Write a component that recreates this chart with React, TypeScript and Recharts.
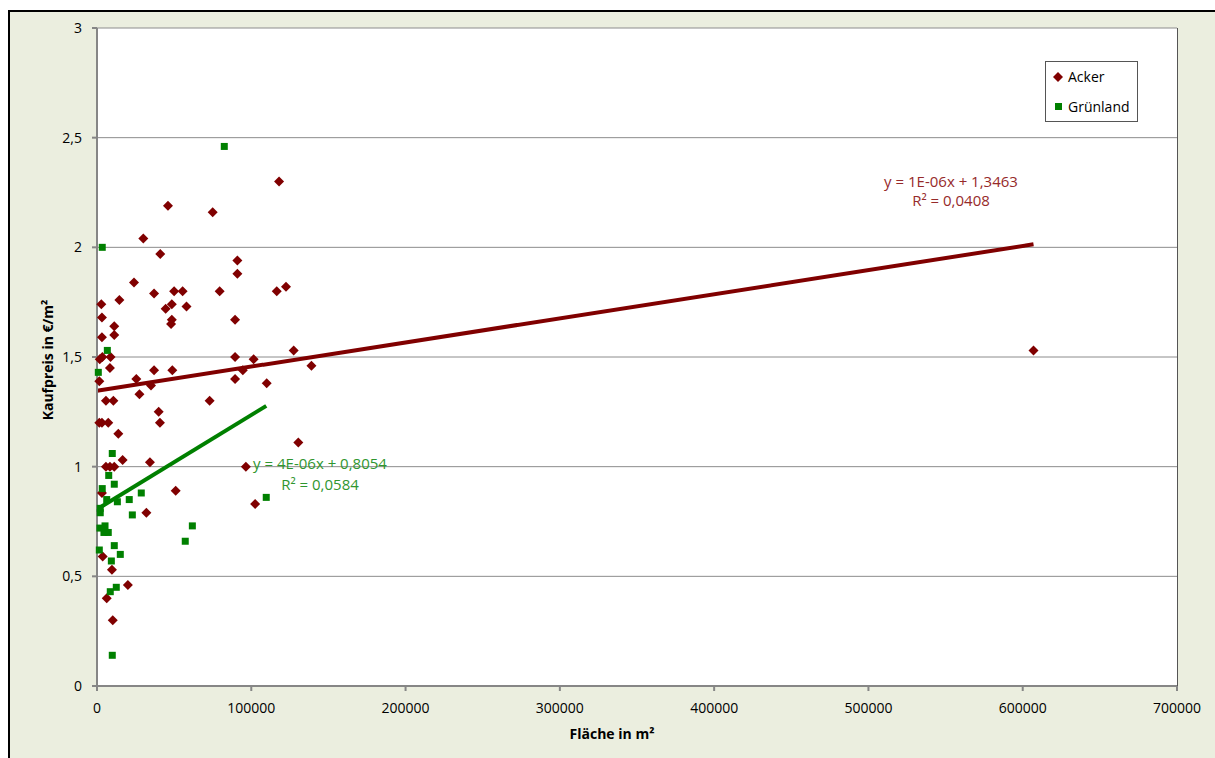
import React from 'react';
import {
  ScatterChart,
  Scatter,
  XAxis,
  YAxis,
  CartesianGrid,
  ReferenceLine,
} from 'recharts';

// Ackerland: Fläche (m²) / Kaufpreis (€/m²)
const ackerFlaeche = [
  607000, 118000, 46000, 75000, 30000, 41000, 91000, 91000, 24000, 122500,
  37000, 50000, 55500, 79500, 116500, 14500, 2800, 48500, 58000, 44500,
  3200, 89500, 48500, 48000, 11200, 11200, 3200, 127500, 89500, 101500,
  1800, 3500, 8800, 139000, 8400, 37000, 48800, 94500, 1500, 25500,
  89500, 35000, 110000, 27500, 73000, 5800, 10600, 40000, 40800, 1500,
  3200, 7300, 13800, 130500, 16600, 34300, 5800, 8400, 11200, 96500,
  3200, 51000, 102500, 32000, 3700, 9700, 20000, 6300, 10200,
];
const ackerPreis = [
  1.53, 2.3, 2.19, 2.16, 2.04, 1.97, 1.94, 1.88, 1.84, 1.82,
  1.79, 1.8, 1.8, 1.8, 1.8, 1.76, 1.74, 1.74, 1.73, 1.72,
  1.68, 1.67, 1.67, 1.65, 1.64, 1.6, 1.59, 1.53, 1.5, 1.49,
  1.49, 1.5, 1.5, 1.46, 1.45, 1.44, 1.44, 1.44, 1.39, 1.4,
  1.4, 1.37, 1.38, 1.33, 1.3, 1.3, 1.3, 1.25, 1.2, 1.2,
  1.2, 1.2, 1.15, 1.11, 1.03, 1.02, 1.0, 1.0, 1.0, 1.0,
  0.88, 0.89, 0.83, 0.79, 0.59, 0.53, 0.46, 0.4, 0.3,
];

// Grünland
const gruenFlaeche = [
  82500, 3400, 6700, 850, 9900, 7600, 11200, 3400, 6300, 13200,
  20900, 28700, 2100, 2100, 22900, 5200, 1900, 7300, 4500, 61800,
  57200, 11200, 1500, 15100, 9300, 12500, 8600, 9900, 109700,
];
const gruenPreis = [
  2.46, 2.0, 1.53, 1.43, 1.06, 0.96, 0.92, 0.9, 0.85, 0.84,
  0.85, 0.88, 0.81, 0.79, 0.78, 0.73, 0.72, 0.7, 0.7, 0.73,
  0.66, 0.64, 0.62, 0.6, 0.57, 0.45, 0.43, 0.14, 0.86,
];

// lineare Trends (Steigung, Achsenabschnitt, Bereich)
const ackerTrend = { m: 1.1e-6, b: 1.3463, from: 0, to: 607000 };
const gruenTrend = { m: 4.3e-6, b: 0.8054, from: 850, to: 109700 };

const xTicks = [0, 100000, 200000, 300000, 400000, 500000, 600000, 700000];
const yTicks = [0, 0.5, 1, 1.5, 2, 2.5, 3];

const ACKER = '#800000';
const GRUEN = '#008000';
const FONT = '"Open Sans", sans-serif';

const ackerData = ackerFlaeche.map((x, i) => ({ x, y: ackerPreis[i] }));
const gruenData = gruenFlaeche.map((x, i) => ({ x, y: gruenPreis[i] }));

const segment = (t: { m: number; b: number; from: number; to: number }) => [
  { x: t.from, y: t.m * t.from + t.b },
  { x: t.to, y: t.m * t.to + t.b },
];

const Diamond = (props: any) => {
  const { cx, cy } = props;
  const r = 5;
  return (
    <polygon
      points={`${cx},${cy - r} ${cx + r},${cy} ${cx},${cy + r} ${cx - r},${cy}`}
      fill={ACKER}
    />
  );
};

const Square = (props: any) => {
  const { cx, cy } = props;
  return <rect x={cx - 3.5} y={cy - 3.5} width={7} height={7} fill={GRUEN} />;
};

const tickStyle = { fontSize: 14, fill: '#000', fontFamily: FONT };

export default function App() {
  return (
    <div
      style={{
        position: 'fixed',
        left: 8,
        top: 10,
        width: 1207,
        height: 748,
        boxSizing: 'border-box',
        borderLeft: '2px solid #000',
        borderTop: '2px solid #000',
        background: '#ebeedf',
        fontFamily: FONT,
        overflow: 'hidden',
      }}
    >
      {/* Zeichenfläche */}
      <div style={{ position: 'absolute', left: 87, top: 16, width: 1080, height: 658, background: '#fff' }} />
      <div style={{ position: 'absolute', left: 0, top: 0 }}>
        <ScatterChart
          width={1205}
          height={746}
          margin={{ top: 16, right: 38, bottom: 32, left: 27 }}
        >
          <CartesianGrid vertical={false} stroke="#8c8c8c" strokeWidth={1} />
          <XAxis
            type="number"
            dataKey="x"
            domain={[0, 700000]}
            ticks={xTicks}
            interval={0}
            height={40}
            tick={tickStyle}
            tickSize={5}
            tickMargin={12}
            stroke="#868686"
            strokeWidth={2}
          />
          <YAxis
            type="number"
            dataKey="y"
            domain={[0, 3]}
            ticks={yTicks}
            interval={0}
            width={60}
            tick={tickStyle}
            tickSize={5}
            tickMargin={10}
            tickFormatter={(v: number) => String(v).replace('.', ',')}
            stroke="#868686"
            strokeWidth={2}
          />
          <Scatter name="Acker" data={ackerData} shape={Diamond} isAnimationActive={false} />
          <Scatter name="Grünland" data={gruenData} shape={Square} isAnimationActive={false} />
          <ReferenceLine segment={segment(ackerTrend)} stroke={ACKER} strokeWidth={4} />
          <ReferenceLine segment={segment(gruenTrend)} stroke={GRUEN} strokeWidth={4} />
        </ScatterChart>
      </div>

      {/* rechter Rand der Zeichenfläche */}
      <div style={{ position: 'absolute', left: 1167, top: 16, width: 1, height: 658, background: '#555' }} />

      {/* Achsentitel */}
      <div
        style={{
          position: 'absolute',
          left: 36.5,
          top: 348,
          transform: 'translate(-50%, -50%) rotate(-90deg)',
          whiteSpace: 'nowrap',
          fontSize: 14,
          fontWeight: 700,
        }}
      >
        Kaufpreis in €/m²
      </div>
      <div
        style={{
          position: 'absolute',
          left: 602,
          top: 721,
          transform: 'translate(-50%, -50%)',
          whiteSpace: 'nowrap',
          fontSize: 14,
          fontWeight: 700,
        }}
      >
        Fläche in m²
      </div>

      {/* Trendgleichungen */}
      <div
        style={{
          position: 'absolute',
          left: 941,
          top: 160,
          transform: 'translateX(-50%)',
          textAlign: 'center',
          whiteSpace: 'nowrap',
          fontSize: 15,
          lineHeight: '19px',
          color: '#962a2a',
        }}
      >
        y = 1E-06x + 1,3463
        <br />
        R² = 0,0408
      </div>
      <div
        style={{
          position: 'absolute',
          left: 310,
          top: 441,
          transform: 'translateX(-50%)',
          textAlign: 'center',
          whiteSpace: 'nowrap',
          fontSize: 15,
          lineHeight: '21px',
          color: '#2f962f',
        }}
      >
        y = 4E-06x + 0,8054
        <br />
        R² = 0,0584
      </div>

      {/* Legende */}
      <div
        style={{
          position: 'absolute',
          left: 1035,
          top: 49,
          width: 93,
          height: 61,
          boxSizing: 'border-box',
          border: '1px solid #555',
          background: '#fff',
          fontSize: 14,
        }}
      >
        <svg width={91} height={59} style={{ position: 'absolute', left: 0, top: 0 }}>
          <polygon points="12,10 17,15 12,20 7,15" fill={ACKER} />
          <rect x={9} y={41} width={7} height={7} fill={GRUEN} />
          <text x={22} y={20} fontSize={14} fontFamily={FONT}>Acker</text>
          <text x={22} y={50} fontSize={14} fontFamily={FONT}>Grünland</text>
        </svg>
      </div>
    </div>
  );
}
